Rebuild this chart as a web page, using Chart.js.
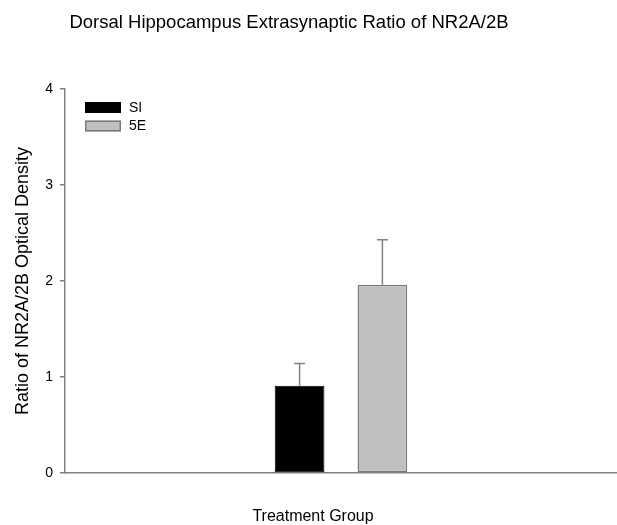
<!DOCTYPE html>
<html lang="en">
<head>
    <meta charset="UTF-8">
    <title>Dorsal Hippocampus Extrasynaptic Ratio of NR2A/2B</title>
    <script src="https://cdn.jsdelivr.net/npm/chart.js"></script>
    <style>
        body {
            margin: 0;
            background-color: #fff;
        }
        #wrap {
            width: 617px;
            height: 525px;
        }
    </style>
</head>
<body>

<div id="wrap"><canvas id="barChart"></canvas></div>

<script>
    // Dados
    const categories = ['Treatment Group'];
    const seriesNames = ['SI', '5E'];
    const siValues = [0.91];
    const siErrors = [0.23];
    const eValues = [1.96];
    const eErrors = [0.47];
    const yTicks = [0, 1, 2, 3, 4];

    const chartTitle = 'Dorsal Hippocampus Extrasynaptic Ratio of NR2A/2B';
    const xTitle = 'Treatment Group';
    const yTitle = 'Ratio of NR2A/2B Optical Density';

    const axisGrey = '#808080';
    const fontFamily = '"Liberation Sans", Arial, sans-serif';

    // Plugin: título, título do eixo x, legenda e barras de erro
    const extrasPlugin = {
        id: 'extras',
        afterDatasetsDraw(chart) {
            const ctx = chart.ctx;
            const y = chart.scales.y;
            const area = chart.chartArea;

            // barras de erro (só para cima)
            ctx.save();
            ctx.strokeStyle = axisGrey;
            ctx.lineWidth = 1.5;
            chart.data.datasets.forEach((ds, i) => {
                const meta = chart.getDatasetMeta(i);
                meta.data.forEach((bar, j) => {
                    const top = y.getPixelForValue(ds.data[j] + ds.errors[j]);
                    const base = y.getPixelForValue(ds.data[j]);
                    ctx.beginPath();
                    ctx.moveTo(bar.x, base);
                    ctx.lineTo(bar.x, top);
                    ctx.moveTo(bar.x - 5.5, top);
                    ctx.lineTo(bar.x + 5.5, top);
                    ctx.stroke();
                });
            });
            ctx.restore();

            // legenda dentro da área do gráfico
            ctx.save();
            ctx.font = '14px ' + fontFamily;
            ctx.textBaseline = 'middle';
            chart.data.datasets.forEach((ds, i) => {
                const bx = area.left + 20;
                const by = area.top + 13 + i * 18.5;
                ctx.fillStyle = ds.backgroundColor;
                ctx.fillRect(bx, by, 36, 11);
                ctx.strokeStyle = ds.borderColor;
                ctx.lineWidth = 1.5;
                ctx.strokeRect(bx + 0.75, by + 0.75, 34.5, 9.5);
                ctx.fillStyle = '#000';
                ctx.fillText(ds.label, bx + 44, by + 6);
            });
            ctx.restore();

            // títulos
            ctx.save();
            ctx.fillStyle = '#000';
            ctx.textAlign = 'center';
            ctx.textBaseline = 'middle';
            ctx.font = '18.5px ' + fontFamily;
            ctx.fillText(chartTitle, 289, 23);
            ctx.font = '16px ' + fontFamily;
            ctx.fillText(xTitle, 313, 517);
            ctx.restore();
        }
    };

    const data = {
        labels: categories,
        datasets: [{
            label: seriesNames[0],
            data: siValues,
            errors: siErrors,
            backgroundColor: '#000000',
            borderColor: '#000000',
            borderWidth: 1,
            borderSkipped: false
        }, {
            label: seriesNames[1],
            data: eValues,
            errors: eErrors,
            backgroundColor: '#c0c0c0',
            borderColor: '#7a7a7a',
            borderWidth: 1.5,
            borderSkipped: false
        }]
    };

    const config = {
        type: 'bar',
        data: data,
        options: {
            responsive: true,
            maintainAspectRatio: false,
            animation: false,
            layout: {
                padding: { top: 89, right: 0, bottom: 0, left: 0 }
            },
            datasets: {
                bar: {
                    categoryPercentage: 0.3,
                    barPercentage: 0.6
                }
            },
            scales: {
                x: {
                    ticks: { display: false },
                    grid: { display: false },
                    border: { color: axisGrey, width: 1.5 },
                    afterFit(scale) { scale.height = 52; }
                },
                y: {
                    min: 0,
                    max: 4,
                    afterBuildTicks(scale) {
                        scale.ticks = yTicks.map(v => ({ value: v }));
                    },
                    ticks: {
                        color: '#000',
                        padding: 7,
                        font: { family: fontFamily, size: 14 }
                    },
                    grid: {
                        drawOnChartArea: false,
                        drawTicks: true,
                        tickLength: 5,
                        color: axisGrey,
                        lineWidth: 1.5
                    },
                    border: { color: axisGrey, width: 1.5 },
                    title: {
                        display: true,
                        text: yTitle,
                        color: '#000',
                        padding: { top: 12, bottom: 0 },
                        font: { family: fontFamily, size: 18 }
                    },
                    afterFit(scale) { scale.width = 65; }
                }
            },
            plugins: {
                legend: { display: false },
                title: { display: false },
                tooltip: { enabled: false }
            }
        },
        plugins: [extrasPlugin]
    };

    const ctx = document.getElementById('barChart').getContext('2d');
    new Chart(ctx, config);
</script>

</body>
</html>
